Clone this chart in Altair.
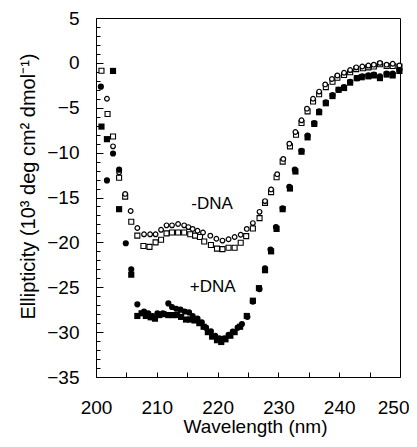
import altair as alt
import pandas as pd

# ---------------- data ----------------
# -DNA, open circles
oc_x = [201.8, 202.8, 203.8, 204.8, 205.7, 206.8, 207.9, 208.9, 209.8, 210.7, 211.6, 212.5, 213.5, 214.5,
        215.2, 215.9, 216.7, 217.6, 218.8, 219.8, 220.8, 221.8, 222.8, 223.8, 224.8, 225.8, 226.9, 227.8,
        228.8, 229.8, 230.8, 231.8, 232.8, 233.8, 234.7, 235.7, 236.7, 237.7, 238.8, 239.7, 240.8, 241.8,
        242.8, 243.8, 244.8, 245.7, 246.7, 247.8, 248.8, 249.9]
oc_y = [-4.0, -9.3, -12.2, -14.6, -16.5, -18.4, -19.1, -19.1, -19.1, -18.6, -18.1, -18.1, -17.95, -18.1,
        -18.3, -18.5, -18.7, -18.9, -19.25, -19.6, -19.8, -19.65, -19.4, -19.15, -18.5, -17.85, -16.6, -15.4,
        -14.1, -12.4, -10.7, -9.0, -7.7, -6.4, -5.1, -4.0, -3.2, -2.4, -1.8, -1.4, -1.1, -0.8,
        -0.5, -0.4, -0.3, -0.2, 0.0, -0.2, -0.1, -0.3]

# -DNA, open squares
os_x = [200.9, 201.9, 202.8, 203.8, 204.8, 205.8, 206.8, 207.8, 208.8, 209.8, 210.7, 211.6, 212.5, 213.5,
        214.5, 215.5, 216.3, 217.1, 217.8, 218.9, 219.9, 220.8, 221.8, 222.8, 223.8, 224.7, 225.8, 226.9,
        227.8, 228.8, 229.7, 230.7, 231.9, 232.9, 233.8, 234.8, 235.7, 236.7, 237.8, 238.9, 239.7, 240.8,
        241.8, 242.8, 243.9, 244.8, 245.7, 246.7, 247.8, 248.8, 249.9]
os_y = [-0.87, -5.7, -8.2, -12.8, -14.9, -17.7, -19.25, -20.4, -20.5, -20.0, -19.7, -19.0, -18.9, -18.9,
        -18.9, -19.1, -19.25, -19.4, -19.9, -20.3, -20.7, -20.75, -20.6, -20.6, -20.05, -19.3, -18.45, -17.3,
        -15.6, -14.4, -12.75, -11.0, -9.3, -8.0, -6.7, -5.4, -4.3, -3.5, -2.7, -2.1, -1.65, -1.35,
        -1.05, -0.7, -0.6, -0.5, -0.4, -0.15, -0.35, -0.35, -0.4]

# +DNA, filled circles
fc_x = [200.8, 201.8, 202.8, 203.8, 204.9, 205.8, 206.8, 207.9, 208.6, 209.3, 210.1, 211.0, 211.9, 212.5,
        213.2, 213.9, 214.6, 215.3, 215.9, 216.7, 217.4, 218.1, 218.9, 219.6, 220.3, 221.1, 221.8, 222.5,
        223.3, 224.0, 224.9, 225.8, 226.9, 227.8, 228.7, 229.6, 230.7, 231.8, 232.7, 233.8, 234.8, 235.9,
        236.7, 237.8, 238.9, 239.9, 240.8, 241.8, 242.9, 243.8, 244.8, 245.7, 246.7, 247.8, 248.8, 249.9]
fc_y = [-2.65, -13.1, -10.1, -11.9, -20.1, -23.0, -26.9, -27.7, -27.9, -28.2, -27.9, -27.9, -26.8, -27.2,
        -27.4, -27.5, -27.7, -27.8, -28.2, -28.5, -28.9, -29.5, -29.9, -30.4, -30.7, -30.7, -30.3, -29.95,
        -29.5, -29.1, -28.3, -26.6, -25.2, -22.9, -20.8, -18.3, -16.2, -13.8, -11.9, -9.8, -8.1, -6.7,
        -5.4, -4.4, -3.6, -3.0, -2.7, -2.1, -1.7, -1.5, -1.4, -1.3, -1.5, -1.2, -1.2, -0.8]

# +DNA, filled squares
fs_x = [200.9, 201.8, 202.8, 203.8, 205.8, 206.8, 207.5, 208.2, 209.0, 209.7, 210.4, 211.1, 211.9, 212.6,
        213.3, 214.0, 214.8, 215.5, 216.2, 217.0, 217.7, 218.4, 219.1, 219.9, 220.6, 221.3, 222.1, 222.8,
        223.7, 224.8, 225.8, 226.8, 227.8, 228.8, 229.7, 230.7, 231.9, 232.8, 233.8, 234.8, 235.9, 236.7,
        237.8, 238.9, 239.9, 240.8, 241.8, 242.9, 243.7, 244.8, 245.7, 246.7, 247.8, 248.8, 249.9]
fs_y = [-7.1, -8.5, -0.9, -16.3, -23.6, -28.2, -27.9, -28.2, -28.35, -28.5, -28.1, -28.0, -28.1, -28.1,
        -28.1, -28.3, -28.6, -28.6, -28.7, -29.0, -29.4, -30.0, -30.5, -30.9, -31.1, -30.8, -30.4, -30.0,
        -29.4, -28.2, -26.5, -25.1, -23.1, -21.0, -18.5, -16.3, -14.0, -12.1, -9.9, -8.3, -6.8, -5.5,
        -4.5, -3.7, -3.0, -2.8, -2.2, -1.7, -1.6, -1.5, -1.4, -1.7, -1.3, -1.4, -0.9]

label_text = ["-DNA", "+DNA"]
label_x = [219.1, 219.2]
label_y = [-15.7, -25.0]

x_label_values = [200, 210, 220, 230, 240, 250]
x_tick_values = [205, 210, 215, 220, 225, 230, 235, 240, 245]
y_label_values = [5, 0, -5, -10, -15, -20, -25, -30, -35]
y_minor_values = list(range(-35, 6))

x_title = "Wavelength (nm)"
y_title = "Ellipticity (10³ deg cm² dmol⁻¹)"

# ---------------- chart ----------------
W, H = 304, 359
FONT = "Liberation Sans"

xscale = alt.Scale(domain=[200, 250], nice=False, zero=False)
yscale = alt.Scale(domain=[-35, 5], nice=False, zero=False)


def df(xs, ys):
    return pd.DataFrame({"x": xs, "y": ys})


all_df = pd.DataFrame({"x": oc_x + os_x + fc_x + fs_x, "y": oc_y + os_y + fc_y + fs_y})

x_main_axis = alt.Axis(
    orient="bottom", values=x_label_values, ticks=False, grid=False, domainColor="black",
    labelFont=FONT, labelFontSize=19, labelColor="black", labelPadding=21,
    labelAlign={"condition": {"test": "datum.value == 250", "value": "right"}, "value": "center"},
    labelOffset={"condition": {"test": "datum.value == 250", "value": 9}, "value": 0},
    title=x_title, titleFont=FONT, titleFontSize=19, titleFontWeight="normal",
    titleColor="black", titlePadding=0, titleX=159, labelFlush=False,
)
y_main_axis = alt.Axis(
    orient="left", values=y_label_values, ticks=False, grid=False, domainColor="black",
    labelFont=FONT, labelFontSize=19, labelColor="black", labelPadding=17,
    title=y_title, titleFont=FONT, titleFontSize=20, titleFontWeight="normal",
    titleColor="black", titlePadding=8, titleY=168, labelFlush=False,
)

noaxis = dict(
    x=alt.X("x:Q", scale=xscale, axis=None),
    y=alt.Y("y:Q", scale=yscale, axis=None),
)

axes_layer = alt.Chart(all_df).mark_point(opacity=0).encode(
    x=alt.X("x:Q", scale=xscale, axis=x_main_axis),
    y=alt.Y("y:Q", scale=yscale, axis=y_main_axis),
)

open_sq = alt.Chart(df(os_x, os_y)).mark_point(
    shape="square", filled=True, fill="white", stroke="black", strokeWidth=1.1, size=25, opacity=1
).encode(**noaxis)

open_ci = alt.Chart(df(oc_x, oc_y)).mark_point(
    shape="circle", filled=True, fill="white", stroke="black", strokeWidth=1.2, size=22, opacity=1
).encode(**noaxis)

fill_sq = alt.Chart(df(fs_x, fs_y)).mark_point(
    shape="square", filled=True, fill="black", size=38, opacity=1
).encode(**noaxis)

fill_ci = alt.Chart(df(fc_x, fc_y)).mark_point(
    shape="circle", filled=True, fill="black", size=38, opacity=1
).encode(**noaxis)

labels = alt.Chart(pd.DataFrame({"t": label_text, "x": label_x, "y": label_y})).mark_text(
    font=FONT, fontSize=17, color="black", align="center", baseline="middle"
).encode(x=alt.X("x:Q", scale=xscale, axis=None), y=alt.Y("y:Q", scale=yscale, axis=None), text="t:N")

# inward ticks: axes on the opposite side, shifted onto the plot edge
x_tick_axis = alt.Axis(orient="top", offset=-H, values=x_tick_values, labels=False, domain=False,
                       grid=False, tickSize=5, tickColor="black", title=None)
y_minor_axis = alt.Axis(orient="right", offset=-W, values=y_minor_values, labels=False, domain=False,
                        grid=False, tickSize=4, tickColor="black", title=None)
y_major_axis = alt.Axis(orient="right", offset=-W, values=y_label_values, labels=False, domain=False,
                        grid=False, tickSize=7, tickColor="black", title=None)

tick_a = alt.Chart(all_df).mark_point(opacity=0).encode(
    x=alt.X("x:Q", scale=xscale, axis=x_tick_axis),
    y=alt.Y("y:Q", scale=yscale, axis=y_minor_axis),
)
tick_b = alt.Chart(all_df).mark_point(opacity=0).encode(
    x=alt.X("x:Q", scale=xscale, axis=None),
    y=alt.Y("y:Q", scale=yscale, axis=y_major_axis),
)

chart = alt.layer(axes_layer, open_sq, open_ci, fill_sq, fill_ci, labels, tick_a, tick_b).resolve_axis(
    x="independent", y="independent"
).properties(
    width=W, height=H,
    autosize=alt.AutoSizeParams(type="none"),
    padding={"left": 88, "top": 10, "right": 9, "bottom": 62},
    background="white",
).configure_view(stroke="black", strokeWidth=1)

chart.save("out.html", embed_options={"renderer": "svg", "actions": False})
